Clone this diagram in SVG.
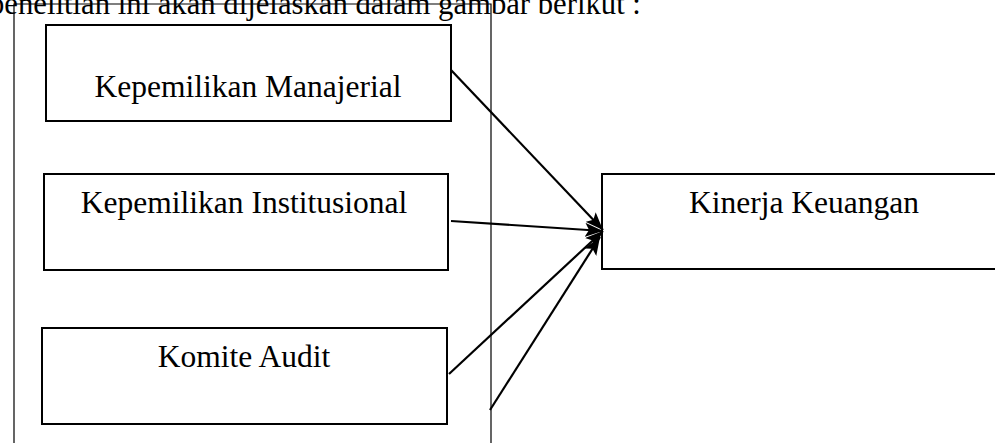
<svg xmlns="http://www.w3.org/2000/svg" width="995" height="443" viewBox="0 0 995 443">
<style>
.box{fill:#fff;stroke:#000;stroke-width:2}
.frame{fill:none;stroke:#000;stroke-width:1.2}
.t{font-family:"Liberation Serif","Times New Roman",serif;font-size:31.5px;fill:#000}
.c{text-anchor:middle}
.con{stroke:#000;stroke-width:2.2;fill:none;marker-end:url(#ah)}
</style>
<defs>
<marker id="ah" markerUnits="userSpaceOnUse" markerWidth="20" markerHeight="14" refX="18" refY="7" orient="auto">
<path d="M0,0 L18,7 L0,14 L4,7 Z" fill="#000"/>
</marker>
</defs>
<text class="t" x="-11" y="14" style="font-size:30.7px">penelitian ini akan dijelaskan dalam gambar berikut :</text>
<g id="frame">
<path class="frame" d="M14,450 V4 H491 V450"/>
</g>
<g id="n1">
<rect class="box" x="46" y="25" width="405" height="96"/>
<text class="t c" x="248" y="97">Kepemilikan Manajerial</text>
</g>
<g id="n2">
<rect class="box" x="44" y="174" width="404" height="96"/>
<text class="t c" x="244" y="213">Kepemilikan Institusional</text>
</g>
<g id="n3">
<rect class="box" x="42" y="328" width="405" height="96"/>
<text class="t c" x="244" y="367">Komite Audit</text>
</g>
<g id="n4">
<rect class="box" x="602" y="174" width="410" height="95"/>
<text class="t c" x="804" y="213">Kinerja Keuangan</text>
</g>
<g id="connectors">
<line class="con" x1="451" y1="70" x2="603" y2="230"/>
<line class="con" x1="451" y1="221" x2="603" y2="231"/>
<line class="con" x1="449" y1="374" x2="603" y2="231"/>
<line class="con" x1="490" y1="410" x2="600" y2="237"/>
</g>
</svg>
